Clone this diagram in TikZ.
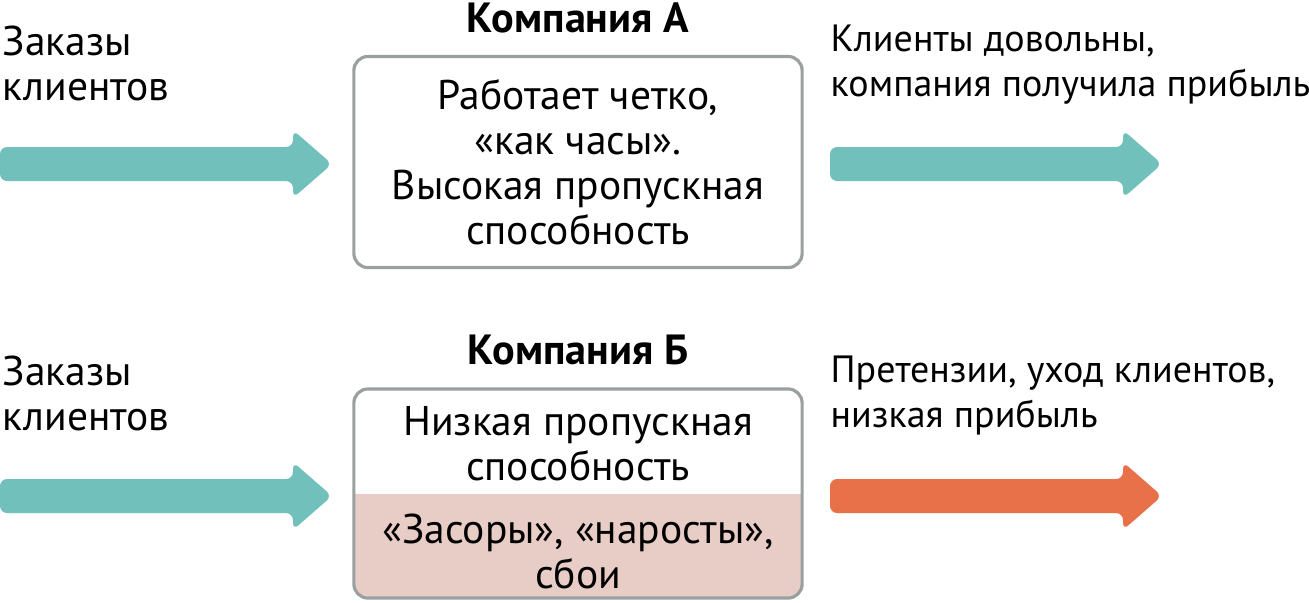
\documentclass[tikz,border=0pt]{standalone}
\usepackage{fontspec}
\setmainfont{PT Sans}
\usepackage{tikz}
\usetikzlibrary{%
  positioning,%
  calc
}
\definecolor{flowteal}{HTML}{72C0BB}
\definecolor{floworange}{HTML}{E8714A}
\definecolor{jampink}{HTML}{E8CDC7}
\definecolor{boxgray}{HTML}{9A9FA0}
\newcommand{\flowarrow}[3]{%
  \fill [#3,rounded corners=2] (#1,#2-17) -- ++(293,0) -- ++(0,-17) -- ++(39,34) -- ++(-39,34) -- ++(0,-17) -- ++(-293,0) -- cycle;}

\begin{document}
\begin{tikzpicture}[x=0.01cm,y=-0.01cm,
    txt/.style={font=\fontsize{11.8}{12.8}\selectfont,align=left,inner sep=0pt},
    outtxt/.style={txt,font=\fontsize{10.8}{12.8}\selectfont},
    title/.style={font=\fontsize{12}{12.8}\selectfont\bfseries,inner sep=0pt},
    proc/.style={draw=boxgray,line width=0.9pt,rounded corners=4,minimum width=4.48cm,inner sep=0pt}]
      \useasboundingbox (0,0) rectangle (1309,602);
      % company A
      \node [title] (titleA) at (578,18) {Компания А};
      \node [proc,minimum height=2.11cm] (boxA) at (578,162) {};
      \node [txt,align=center] (workA) at (boxA) {Работает четко,\\«как часы».\\Высокая пропускная\\способность};
      \node [txt,anchor=west] (ordersA) at (2,63) {Заказы\\клиентов};
      \node [outtxt,anchor=west] (resultA) at (830,65) {Клиенты довольны,\\компания получила прибыль};
      \flowarrow{0}{164}{flowteal}
      \flowarrow{830}{164}{flowteal}
      % company B
      \node [title] (titleB) at (578,350) {Компания Б};
      \fill [jampink] (354,494) [rounded corners=4]-- (354,598) -- (802,598) [sharp corners]-- (802,494) -- cycle;
      \node [proc,minimum height=2.09cm] (boxB) at (578,493.5) {};
      \node [txt,align=center] (workB) at (578,444) {Низкая пропускная\\способность};
      \node [txt,align=center] (jamB) at (578,551) {«Засоры», «наросты»,\\сбои};
      \node [txt,anchor=west] (ordersB) at (2,393) {Заказы\\клиентов};
      \node [outtxt,anchor=west] (resultB) at (830,395) {Претензии, уход клиентов,\\низкая прибыль};
      \flowarrow{0}{496}{flowteal}
      \flowarrow{830}{496}{floworange}
    \end{tikzpicture}
\end{document}
